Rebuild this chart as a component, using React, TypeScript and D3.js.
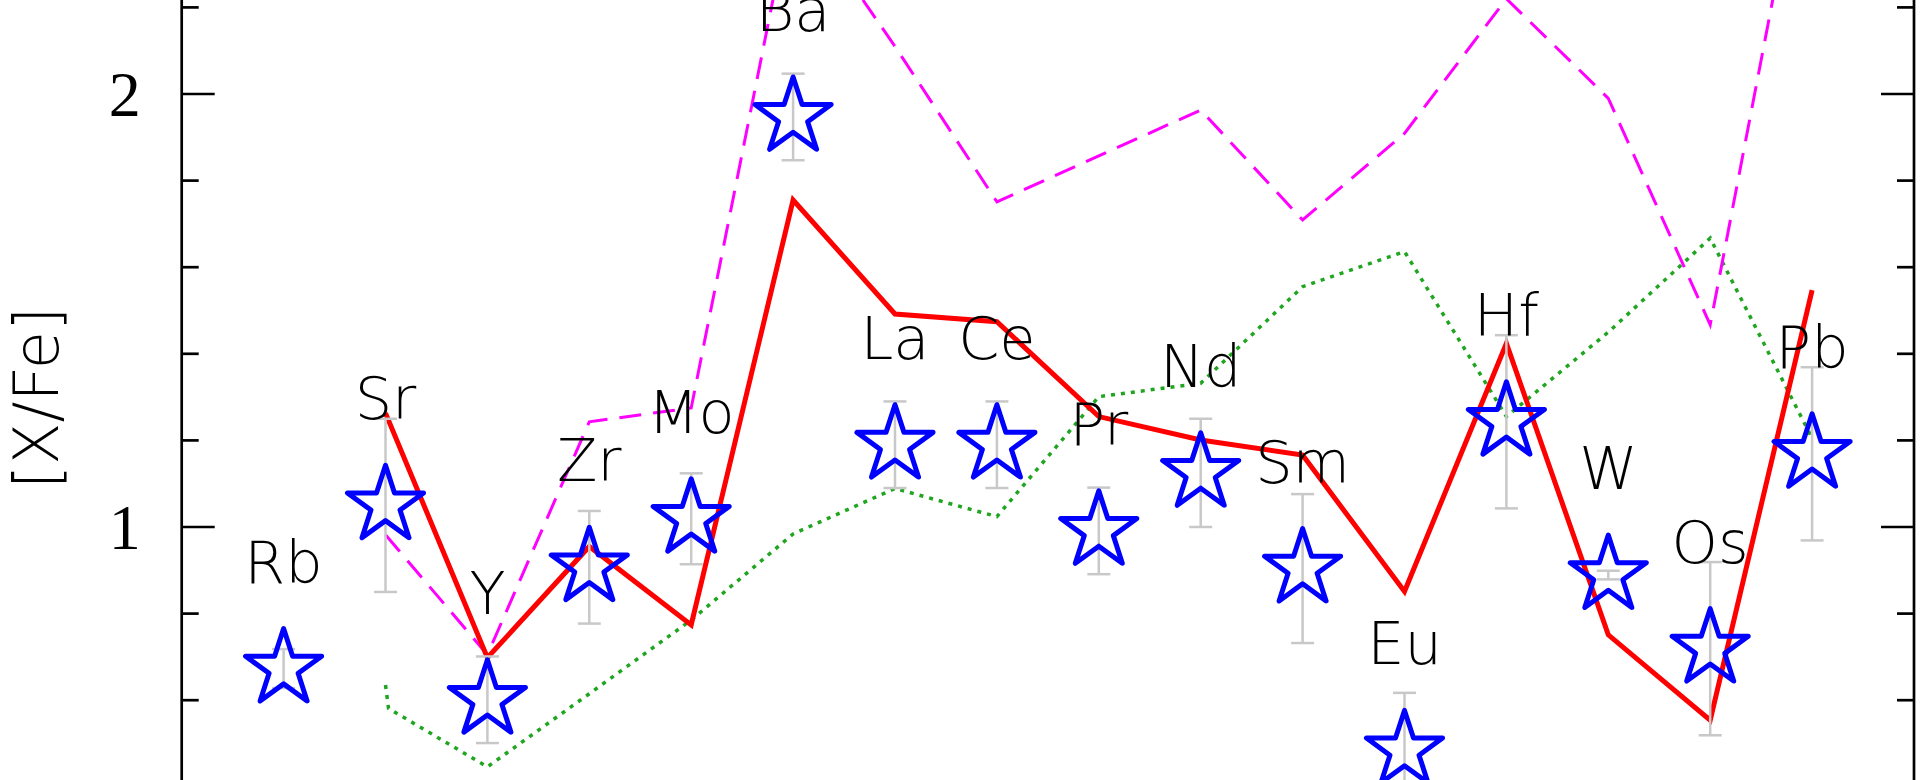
import * as d3 from "d3";

// element order along the x axis (plotted by index)
const ELEMENTS = ["Rb", "Sr", "Y", "Zr", "Mo", "Ba", "La", "Ce", "Pr", "Nd", "Sm", "Eu", "Hf", "W", "Os", "Pb"];

// observed [X/Fe] with errors (blue stars)
const OBS = [0.673, 1.05, 0.601, 0.907, 1.019, 1.947, 1.19, 1.19, 0.991, 1.125, 0.904, 0.484, 1.243, 0.889, 0.719, 1.169];
const OBS_ERR = [0.045, 0.2, 0.1, 0.13, 0.105, 0.1, 0.1, 0.1, 0.1, 0.125, 0.172, 0.133, 0.2, 0.01, 0.2, 0.2];

// model curves (no value for Rb)
const MODEL_RED = [null, 1.263, 0.698, 0.955, 0.774, 1.755, 1.492, 1.474, 1.255, 1.201, 1.166, 0.851, 1.424, 0.751, 0.554, 1.547];
const MODEL_MAGENTA = [null, 0.982, 0.705, 1.243, 1.275, 2.45, 2.11, 1.751, 1.857, 1.963, 1.709, 1.909, 2.22, 1.99, 1.467, 2.69];
const GREEN_X = [1, 1.03, 2, 3, 4, 5, 6, 7, 8, 9, 10, 11, 12, 13, 14, 15];
const GREEN_Y = [0.635, 0.581, 0.446, 0.615, 0.785, 0.984, 1.089, 1.024, 1.301, 1.332, 1.555, 1.636, 1.255, 1.45, 1.667, 1.205];

const Y_LABELS = [1, 2];

const W = 1920;
const H = 780;
const LEFT = 181.7;
const RIGHT = 1914;
const LABEL_GAP = 86;

const labelFont = "'DejaVu Sans', 'Noto Sans', sans-serif";

export default function App() {
  const x = d3.scaleLinear().domain([-1, 16]).range([LEFT, RIGHT]);
  const y = d3.scaleLinear().domain([1, 2]).range([527, 94]);

  const minorTicks = d3.ticks(0.4, 2.4, 10);

  type P = [number, number | null];
  const line = d3
    .line<P>()
    .defined((d) => d[1] != null)
    .x((d) => x(d[0]))
    .y((d) => y(d[1] as number));

  const redPts: P[] = MODEL_RED.map((v, i) => [i, v]);
  const magPts: P[] = MODEL_MAGENTA.map((v, i) => [i, v]);
  const greenPts: P[] = GREEN_X.map((gx, i) => [gx, GREEN_Y[i]]);

  const star = d3.symbol(d3.symbolStar, (40 * 40) / 0.8908130915292852)();

  return (
    <svg
      width={W}
      height={H}
      viewBox={`0 0 ${W} ${H}`}
      style={{ position: "absolute", left: 0, top: 0, background: "#fff" }}
    >
      {/* axes */}
      <line x1={LEFT} x2={LEFT} y1={0} y2={H} stroke="#000" strokeWidth={2.7} />
      <line x1={RIGHT} x2={RIGHT} y1={0} y2={H} stroke="#000" strokeWidth={2.7} />
      {minorTicks.map((t) => {
        const major = Math.abs(t - Math.round(t)) < 1e-6;
        const len = major ? 33 : 17;
        return (
          <g key={t}>
            <line x1={LEFT} x2={LEFT + len} y1={y(t)} y2={y(t)} stroke="#000" strokeWidth={2.7} />
            <line x1={RIGHT} x2={RIGHT - len} y1={y(t)} y2={y(t)} stroke="#000" strokeWidth={2.7} />
          </g>
        );
      })}
      {Y_LABELS.map((t) => (
        <text
          key={t}
          x={LEFT - 41}
          y={y(t)}
          textAnchor="end"
          dominantBaseline="central"
          fontFamily="'Liberation Serif', 'DejaVu Serif', serif"
          fontSize={64}
        >
          {t}
        </text>
      ))}
      <text
        transform={`translate(58, 398) rotate(-90)`}
        textAnchor="middle"
        fontFamily={labelFont}
        fontWeight={200}
        fontSize={62}
      >
        [X/Fe]
      </text>

      {/* model curves */}
      <path d={line(greenPts) ?? ""} fill="none" stroke="#1fa51f" strokeWidth={3.5} strokeDasharray="4 6" />
      <path d={line(magPts) ?? ""} fill="none" stroke="#ff00ff" strokeWidth={3} strokeDasharray="22 12" />
      <path d={line(redPts) ?? ""} fill="none" stroke="#ff0000" strokeWidth={5} strokeLinejoin="miter" />

      {/* error bars */}
      {OBS.map((v, i) => {
        const cx = x(i);
        const y0 = y(v - OBS_ERR[i]);
        const y1 = y(v + OBS_ERR[i]);
        return (
          <g key={ELEMENTS[i]} stroke="#c8c8c8" strokeWidth={2.5}>
            <line x1={cx} x2={cx} y1={y0} y2={y1} />
            <line x1={cx - 11.5} x2={cx + 11.5} y1={y0} y2={y0} />
            <line x1={cx - 11.5} x2={cx + 11.5} y1={y1} y2={y1} />
          </g>
        );
      })}

      {/* observed stars */}
      {OBS.map((v, i) => (
        <path
          key={ELEMENTS[i]}
          d={star ?? ""}
          transform={`translate(${x(i)},${y(v)})`}
          fill="none"
          stroke="#0000ff"
          strokeWidth={5}
          strokeLinejoin="round"
        />
      ))}

      {/* element labels */}
      {OBS.map((v, i) => (
        <text
          key={ELEMENTS[i]}
          x={x(i)}
          y={y(v) - LABEL_GAP}
          textAnchor="middle"
          fontFamily={labelFont}
          fontWeight={200}
          fontSize={59}
        >
          {ELEMENTS[i]}
        </text>
      ))}
    </svg>
  );
}
